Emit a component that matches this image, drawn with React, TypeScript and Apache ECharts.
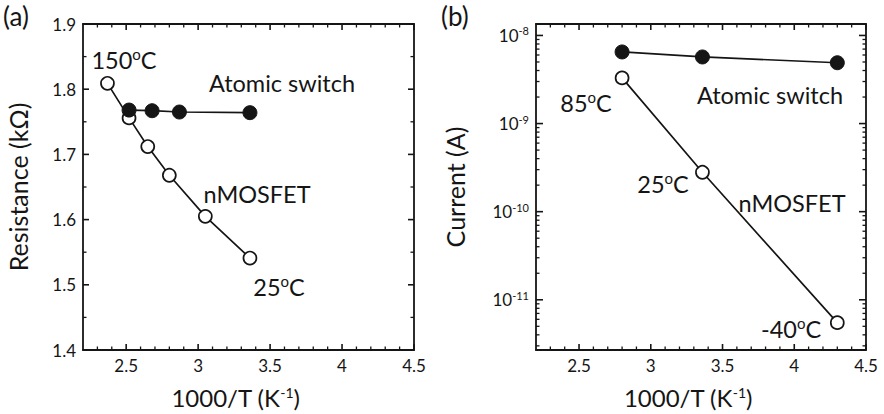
import React, { useEffect, useRef } from "react";
import * as echarts from "echarts";

// (a) resistance vs inverse temperature
const resInvT_nmos = [2.37, 2.52, 2.65, 2.8, 3.05, 3.36];
const resValues_nmos = [1.809, 1.756, 1.712, 1.668, 1.605, 1.541];
const resInvT_atomic = [2.52, 2.68, 2.87, 3.36];
const resValues_atomic = [1.768, 1.767, 1.765, 1.764];

// (b) current vs inverse temperature
const curInvT = [2.8, 3.36, 4.3];
const curValues_atomic = [6.5e-9, 5.7e-9, 4.9e-9];
const curValues_nmos = [3.3e-9, 2.8e-10, 5.5e-12];

// tick labels
const xTickValues = [2.5, 3, 3.5, 4, 4.5];
const resTickValues = [1.4, 1.5, 1.6, 1.7, 1.8, 1.9];
const resMinorTicks = [1.45, 1.55, 1.65, 1.75, 1.85];
const curDecades = [-11, -10, -9, -8];

const FONT = "Lato, 'Open Sans', sans-serif";
const INK = "#151515";

const X_MIN = 2.2;
const X_MAX = 4.5;
const RES_MIN = 1.4;
const RES_MAX = 1.9;
const CUR_LOG_MIN = -11.57;
const CUR_LOG_MAX = -7.87;

// minor ticks every 0.1 along 1000/T
const xMinorTicks: number[] = [];
for (let k = 23; k <= 44; k++) if (k % 5 !== 0) xMinorTicks.push(k / 10);

// log-scale minor ticks (2..9 x 10^n)
const curMinorTicks: number[] = [];
for (let n = -12; n <= -8; n++) {
  for (let k = 2; k <= 9; k++) {
    const v = Math.log10(k * Math.pow(10, n));
    if (v > CUR_LOG_MIN && v < CUR_LOG_MAX) curMinorTicks.push(v);
  }
}

const supRich = {
  base: { fontFamily: FONT, fontSize: 17, color: INK, lineHeight: 20 },
  sup: { fontFamily: FONT, fontSize: 11, color: INK, lineHeight: 11, verticalAlign: "top" as const },
};

const titleRich = {
  sup: { fontFamily: FONT, fontSize: 14, color: INK, lineHeight: 13, verticalAlign: "top" as const },
};

const annRich = {
  b: { fontFamily: FONT, fontSize: 23.5, color: INK, lineHeight: 28 },
  s: { fontFamily: FONT, fontSize: 15, color: INK, lineHeight: 15, verticalAlign: "top" as const },
};

const boxLine = { show: true, lineStyle: { color: INK, width: 1.8 } };

function xAxes(gridIndex: number) {
  const common = {
    gridIndex,
    type: "value" as const,
    min: X_MIN,
    max: X_MAX,
    splitLine: { show: false },
    axisTick: { show: false },
  };
  return [
    {
      ...common,
      position: "bottom",
      name: "1000/T (K{sup|-1})",
      nameLocation: "middle",
      nameGap: 35,
      nameTextStyle: { fontFamily: FONT, fontSize: 24, color: INK, rich: titleRich, padding: [0, 26, 0, 0] },
      axisLine: boxLine,
      axisLabel: { show: true, customValues: xTickValues, margin: 7, fontFamily: FONT, fontSize: 17, color: INK },
    },
    { ...common, position: "top", axisLine: boxLine, axisLabel: { show: false } },
  ];
}

function resYAxes() {
  const common = {
    gridIndex: 0,
    type: "value" as const,
    min: RES_MIN,
    max: RES_MAX,
    interval: 0.1,
    splitLine: { show: false },
    axisTick: { show: false },
  };
  return [
    {
      ...common,
      position: "left",
      axisLine: boxLine,
      axisLabel: {
        show: true,
        customValues: resTickValues,
        margin: 7,
        fontFamily: FONT,
        fontSize: 17,
        color: INK,
        formatter: (v: number) => v.toFixed(1),
      },
      name: "Resistance (kΩ)",
      nameLocation: "middle",
      nameGap: 53,
      nameTextStyle: { fontFamily: FONT, fontSize: 25, color: INK },
    },
    { ...common, position: "right", axisLine: boxLine, axisLabel: { show: false } },
  ];
}

function curYAxes() {
  const common = {
    gridIndex: 1,
    type: "value" as const,
    min: CUR_LOG_MIN,
    max: CUR_LOG_MAX,
    splitLine: { show: false },
    axisTick: { show: false },
  };
  return [
    {
      ...common,
      position: "left",
      axisLine: boxLine,
      axisLabel: {
        show: true,
        customValues: curDecades,
        margin: 7,
        formatter: (v: number) => `{base|10}{sup|${Math.round(v)}}`,
        rich: supRich,
      },
      name: "Current (A)",
      nameLocation: "middle",
      nameGap: 69,
      nameTextStyle: { fontFamily: FONT, fontSize: 25, color: INK },
    },
    { ...common, position: "right", axisLine: boxLine, axisLabel: { show: false } },
  ];
}

function annotation(x: number, y: number, text: string) {
  return {
    type: "text",
    x,
    y,
    z: 50,
    style: {
      text,
      rich: annRich,
      align: "center",
      verticalAlign: "middle",
      fill: INK,
    },
  };
}

const openMarker = { color: "#ffffff", borderColor: INK, borderWidth: 1.7 };
const filledMarker = { color: INK, borderColor: INK, borderWidth: 1 };

export default function App() {
  const ref = useRef<HTMLDivElement>(null);

  useEffect(() => {
    if (!ref.current) return;
    const chart = echarts.init(ref.current, null, { renderer: "svg" });

    const pair = (xs: number[], ys: number[]) => xs.map((x, i) => [x, ys[i]]);
    const lineSeries = (name: string, xi: number, yi: number, data: number[][], open: boolean) => ({
      type: "line",
      name,
      xAxisIndex: xi,
      yAxisIndex: yi,
      data,
      symbol: "circle",
      symbolSize: open ? 13 : 14,
      lineStyle: { color: INK, width: 1.7 },
      itemStyle: open ? openMarker : filledMarker,
      z: open ? 3 : 4,
    });

    chart.setOption({
      animation: false,
      textStyle: { fontFamily: FONT },
      grid: [
        { left: 83, top: 24, width: 331, height: 329 },
        { left: 536, top: 24, width: 330, height: 328 },
      ],
      xAxis: [...xAxes(0), ...xAxes(1)],
      yAxis: [...resYAxes(), ...curYAxes()],
      series: [
        lineSeries("nMOSFET", 0, 0, pair(resInvT_nmos, resValues_nmos), true),
        lineSeries("Atomic switch", 0, 0, pair(resInvT_atomic, resValues_atomic), false),
        lineSeries("nMOSFET", 2, 2, pair(curInvT, curValues_nmos.map((v) => Math.log10(v))), true),
        lineSeries("Atomic switch", 2, 2, pair(curInvT, curValues_atomic.map((v) => Math.log10(v))), false),
      ],
    } as any);

    // inward ticks on all four sides, positioned through each grid's own scales
    const tickLines: any[] = [];
    const addTicks = (
      gridIndex: number,
      yMin: number,
      yMax: number,
      yMajor: number[],
      yMinor: number[],
      yMajorLen: number
    ) => {
      const px = (x: number, y: number) => chart.convertToPixel({ gridIndex } as any, [x, y]) as number[];
      const seg = (x1: number, y1: number, x2: number, y2: number, major: boolean) =>
        tickLines.push({
          type: "line",
          z: 60,
          silent: true,
          shape: { x1, y1, x2, y2 },
          style: { stroke: INK, lineWidth: major ? 1.6 : 1.3 },
        });
      const xTick = (v: number, major: boolean) => {
        const len = major ? 6 : 3.5;
        const b = px(v, yMin);
        const t = px(v, yMax);
        seg(b[0], b[1], b[0], b[1] - len, major);
        seg(t[0], t[1], t[0], t[1] + len, major);
      };
      const yTick = (v: number, major: boolean) => {
        const len = major ? yMajorLen : 3.5;
        const l = px(X_MIN, v);
        const r = px(X_MAX, v);
        seg(l[0], l[1], l[0] + len, l[1], major);
        seg(r[0], r[1], r[0] - len, r[1], major);
      };
      xTickValues.forEach((v) => xTick(v, true));
      xMinorTicks.forEach((v) => xTick(v, false));
      yMajor.forEach((v) => yTick(v, true));
      yMinor.forEach((v) => yTick(v, false));
    };
    addTicks(0, RES_MIN, RES_MAX, resTickValues, resMinorTicks, 6);
    addTicks(1, CUR_LOG_MIN, CUR_LOG_MAX, curDecades, curMinorTicks, 7);

    chart.setOption({
      graphic: [
        { type: "text", x: 3, y: 3, z: 50, style: { text: "(a)", font: `26px ${FONT}`, fill: INK } },
        { type: "text", x: 441, y: 3, z: 50, style: { text: "(b)", font: `26px ${FONT}`, fill: INK } },
        annotation(124, 60, "{b|150}{s|o}{b|C}"),
        annotation(282, 83, "{b|Atomic switch}"),
        annotation(257, 194, "{b|nMOSFET}"),
        annotation(279, 287, "{b|25}{s|o}{b|C}"),
        annotation(586, 103, "{b|85}{s|o}{b|C}"),
        annotation(770, 95, "{b|Atomic switch}"),
        annotation(663, 184, "{b|25}{s|o}{b|C}"),
        annotation(792, 203, "{b|nMOSFET}"),
        annotation(791, 329, "{b|-40}{s|o}{b|C}"),
        ...tickLines,
      ],
    } as any);

    return () => chart.dispose();
  }, []);

  return (
    <div
      ref={ref}
      style={{ position: "fixed", left: 0, top: 0, width: 884, height: 414, background: "#fff" }}
    />
  );
}
